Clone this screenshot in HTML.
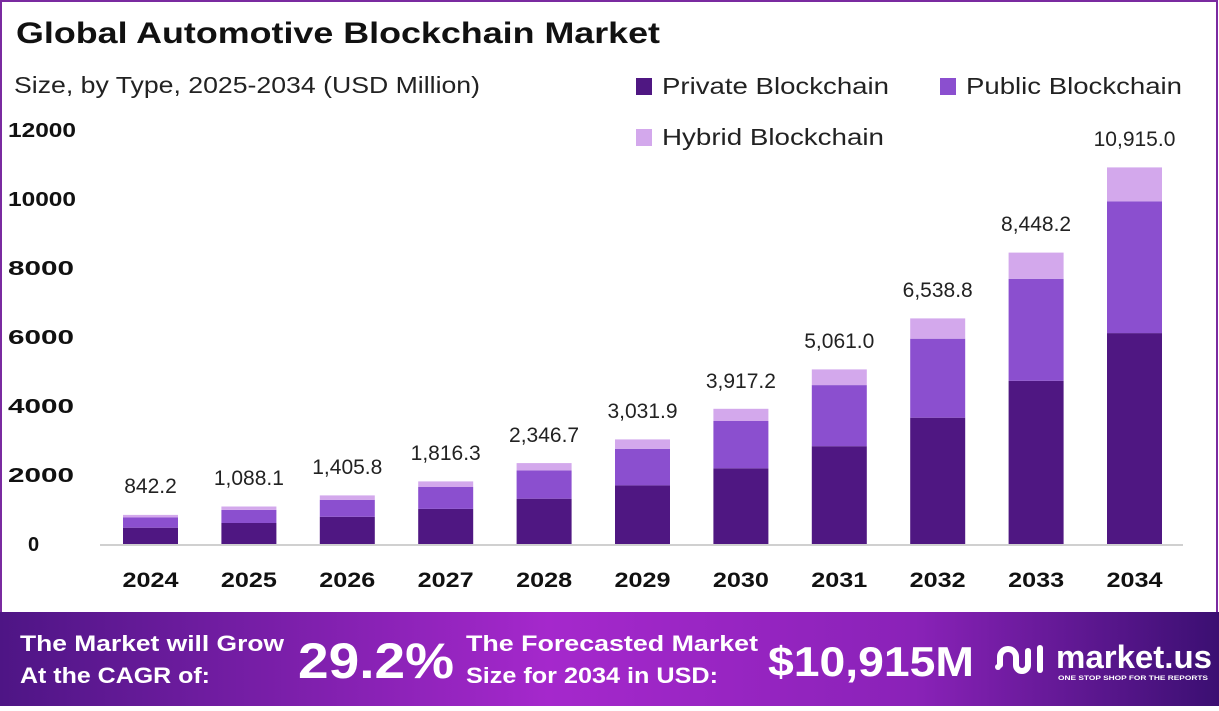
<!DOCTYPE html>
<html><head><meta charset="utf-8"><style>
body{margin:0;width:1219px;height:706px;overflow:hidden;background:#fff;font-family:"Liberation Sans",sans-serif}
</style></head><body>
<svg width="1219" height="706" xmlns="http://www.w3.org/2000/svg" font-family="Liberation Sans, sans-serif">
<defs>
<linearGradient id="bg" x1="0" x2="1" y1="0" y2="0">
<stop offset="0" stop-color="#4e1585"/><stop offset="0.45" stop-color="#a528cc"/><stop offset="0.75" stop-color="#8a22b8"/><stop offset="1" stop-color="#3b0f72"/>
</linearGradient>
</defs>
<rect x="1" y="1" width="1216" height="704" fill="#fff" stroke="#7a2aa0" stroke-width="2"/>
<text x="16" y="43" font-size="30" font-weight="bold" fill="#111" textLength="644" lengthAdjust="spacingAndGlyphs">Global Automotive Blockchain Market</text>
<text x="14" y="93" font-size="23" fill="#222" textLength="466" lengthAdjust="spacingAndGlyphs">Size, by Type, 2025-2034 (USD Million)</text>
<rect x="636" y="78" width="16" height="17" fill="#4f1782"/><text x="662" y="94" font-size="23" fill="#222" textLength="227" lengthAdjust="spacingAndGlyphs">Private Blockchain</text>
<rect x="940" y="78" width="16" height="17" fill="#8b4fcf"/><text x="966" y="94" font-size="23" fill="#222" textLength="216" lengthAdjust="spacingAndGlyphs">Public Blockchain</text>
<rect x="636" y="129" width="16" height="17" fill="#d3a8ec"/><text x="662" y="145" font-size="23" fill="#222" textLength="222" lengthAdjust="spacingAndGlyphs">Hybrid Blockchain</text>
<g font-size="20" font-weight="bold" fill="#111">
<text x="28" y="551">0</text><text x="8" y="482" textLength="66" lengthAdjust="spacingAndGlyphs">2000</text><text x="8" y="413" textLength="66" lengthAdjust="spacingAndGlyphs">4000</text><text x="8" y="344" textLength="66" lengthAdjust="spacingAndGlyphs">6000</text><text x="8" y="275" textLength="66" lengthAdjust="spacingAndGlyphs">8000</text><text x="8" y="206" textLength="68" lengthAdjust="spacingAndGlyphs">10000</text><text x="8" y="137" textLength="68" lengthAdjust="spacingAndGlyphs">12000</text>
</g>
<line x1="100" y1="545" x2="1183" y2="545" stroke="#d0d0d0" stroke-width="2"/>
<g id="bars">
<rect x="123" y="527.7" width="55" height="16.3" fill="#4f1782"/><rect x="123" y="517.5" width="55" height="10.2" fill="#8b4fcf"/><rect x="123" y="514.9" width="55" height="2.6" fill="#d3a8ec"/>
<rect x="221.4" y="523" width="55" height="21" fill="#4f1782"/><rect x="221.4" y="509.9" width="55" height="13.1" fill="#8b4fcf"/><rect x="221.4" y="506.5" width="55" height="3.4" fill="#d3a8ec"/>
<rect x="319.8" y="516.8" width="55" height="27.2" fill="#4f1782"/><rect x="319.8" y="499.8" width="55" height="17" fill="#8b4fcf"/><rect x="319.8" y="495.4" width="55" height="4.4" fill="#d3a8ec"/>
<rect x="418.2" y="508.9" width="55" height="35.1" fill="#4f1782"/><rect x="418.2" y="487" width="55" height="21.9" fill="#8b4fcf"/><rect x="418.2" y="481.4" width="55" height="5.6" fill="#d3a8ec"/>
<rect x="516.6" y="498.7" width="55" height="45.3" fill="#4f1782"/><rect x="516.6" y="470.4" width="55" height="28.3" fill="#8b4fcf"/><rect x="516.6" y="463.1" width="55" height="7.3" fill="#d3a8ec"/>
<rect x="615" y="485.4" width="55" height="58.6" fill="#4f1782"/><rect x="615" y="448.8" width="55" height="36.6" fill="#8b4fcf"/><rect x="615" y="439.4" width="55" height="9.4" fill="#d3a8ec"/>
<rect x="713.4" y="468.3" width="55" height="75.7" fill="#4f1782"/><rect x="713.4" y="421" width="55" height="47.3" fill="#8b4fcf"/><rect x="713.4" y="408.8" width="55" height="12.2" fill="#d3a8ec"/>
<rect x="811.8" y="446.2" width="55" height="97.8" fill="#4f1782"/><rect x="811.8" y="385.1" width="55" height="61.1" fill="#8b4fcf"/><rect x="811.8" y="369.4" width="55" height="15.7" fill="#d3a8ec"/>
<rect x="910.2" y="417.7" width="55" height="126.3" fill="#4f1782"/><rect x="910.2" y="338.7" width="55" height="79" fill="#8b4fcf"/><rect x="910.2" y="318.4" width="55" height="20.3" fill="#d3a8ec"/>
<rect x="1008.6" y="380.8" width="55" height="163.2" fill="#4f1782"/><rect x="1008.6" y="278.8" width="55" height="102" fill="#8b4fcf"/><rect x="1008.6" y="252.6" width="55" height="26.2" fill="#d3a8ec"/>
<rect x="1107" y="333.1" width="55" height="210.9" fill="#4f1782"/><rect x="1107" y="201.3" width="55" height="131.8" fill="#8b4fcf"/><rect x="1107" y="167.4" width="55" height="33.9" fill="#d3a8ec"/>
</g>
<g font-size="21" fill="#222" text-anchor="middle">
<text x="150.5" y="493">842.2</text><text x="248.9" y="485">1,088.1</text><text x="347.3" y="474">1,405.8</text><text x="445.7" y="460">1,816.3</text><text x="544.1" y="442">2,346.7</text><text x="642.5" y="418">3,031.9</text><text x="740.9" y="388">3,917.2</text><text x="839.3" y="348">5,061.0</text><text x="937.7" y="297">6,538.8</text><text x="1036.1" y="231">8,448.2</text><text x="1134.5" y="146">10,915.0</text>
</g>
<g font-size="21" font-weight="bold" fill="#111" text-anchor="middle">
<text x="150.5" y="587" textLength="56" lengthAdjust="spacingAndGlyphs">2024</text><text x="248.9" y="587" textLength="56" lengthAdjust="spacingAndGlyphs">2025</text><text x="347.3" y="587" textLength="56" lengthAdjust="spacingAndGlyphs">2026</text><text x="445.7" y="587" textLength="56" lengthAdjust="spacingAndGlyphs">2027</text><text x="544.1" y="587" textLength="56" lengthAdjust="spacingAndGlyphs">2028</text><text x="642.5" y="587" textLength="56" lengthAdjust="spacingAndGlyphs">2029</text><text x="740.9" y="587" textLength="56" lengthAdjust="spacingAndGlyphs">2030</text><text x="839.3" y="587" textLength="56" lengthAdjust="spacingAndGlyphs">2031</text><text x="937.7" y="587" textLength="56" lengthAdjust="spacingAndGlyphs">2032</text><text x="1036.1" y="587" textLength="56" lengthAdjust="spacingAndGlyphs">2033</text><text x="1134.5" y="587" textLength="56" lengthAdjust="spacingAndGlyphs">2034</text>
</g>
<rect x="0" y="612" width="1219" height="94" fill="url(#bg)"/>
<g fill="#fff" font-weight="bold">
<text x="20" y="651" font-size="22" textLength="264" lengthAdjust="spacingAndGlyphs">The Market will Grow</text>
<text x="20" y="683" font-size="22" textLength="190" lengthAdjust="spacingAndGlyphs">At the CAGR of:</text>
<text x="298" y="678" font-size="50" textLength="156" lengthAdjust="spacingAndGlyphs">29.2%</text>
<text x="466" y="651" font-size="22" textLength="292" lengthAdjust="spacingAndGlyphs">The Forecasted Market</text>
<text x="466" y="683" font-size="22" textLength="252" lengthAdjust="spacingAndGlyphs">Size for 2034 in USD:</text>
<text x="768" y="676" font-size="42" textLength="206" lengthAdjust="spacingAndGlyphs">$10,915M</text>
<text x="1056" y="668" font-size="32" textLength="156" lengthAdjust="spacingAndGlyphs">market.us</text>
<text x="1058" y="680" font-size="6.5" textLength="150" lengthAdjust="spacingAndGlyphs">ONE STOP SHOP FOR THE REPORTS</text>
</g>
<g fill="none" stroke="#fff" stroke-width="6" stroke-linecap="round">
<path d="M1000 665 v-8 a8 8 0 0 1 16 0 v8 a6 6 0 0 0 12 0 v-14"/>
<path d="M1040 648 v22"/>
</g>
<circle cx="998" cy="667" r="3" fill="#fff"/>
</svg>
</body></html>
